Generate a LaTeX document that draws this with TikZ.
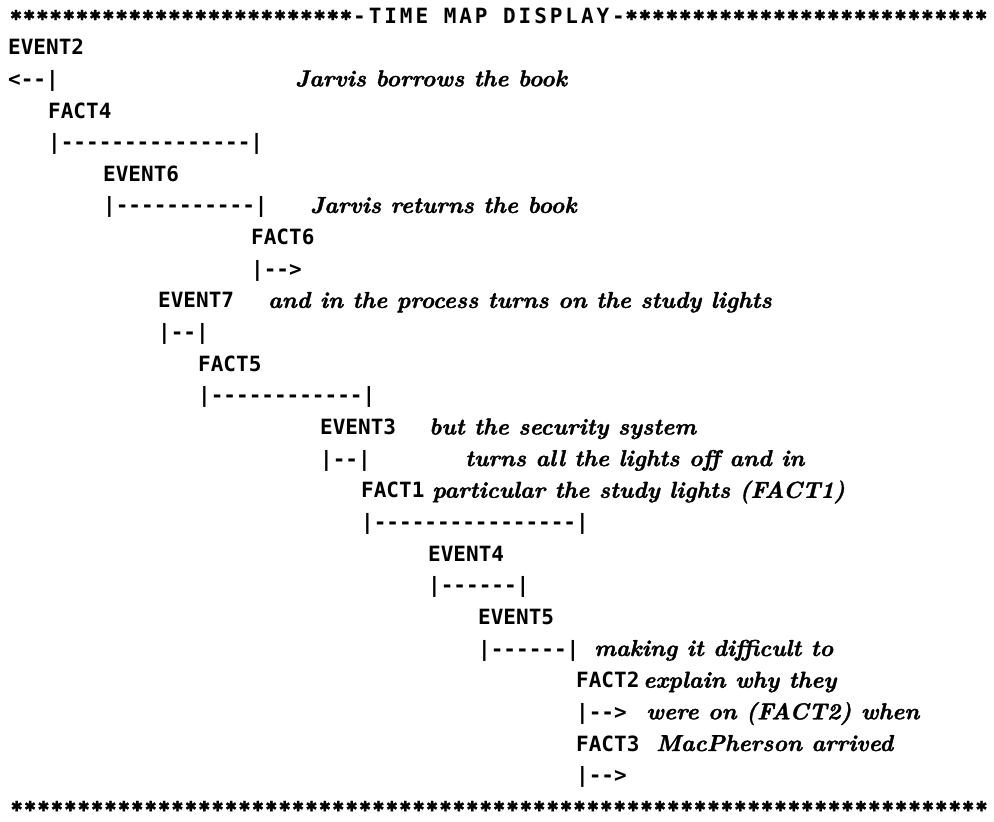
\documentclass[tikz,border=0pt]{standalone}
\usepackage{fontspec}
\setmonofont{DejaVu Sans Mono}
\newfontfamily\notefont{lmroman10-bolditalic}[Extension=.otf,FakeBold=1.6]
\newfontfamily\starfont{DejaVu Sans}[FakeBold=2]
\usepackage{tikz}

\begin{document}
\begin{tikzpicture}[x=1pt,y=-1pt,
  lbl/.style={anchor=base west,inner sep=0pt,font=\ttfamily\bfseries\fontsize{21}{21}\selectfont},
  note/.style={anchor=base west,inner sep=0pt,font=\notefont\fontsize{23}{23}\selectfont},
  ast/.style={anchor=center,inner sep=0pt,font=\starfont\fontsize{14}{14}\selectfont}]
\useasboundingbox[fill=white] (0,0) rectangle (994,822);

% rows of stars
\foreach \i in {0,...,25} {
 \node[ast] (topl\i) at (16+13.2*\i,15) {✱};
}
\node[lbl,font=\ttfamily\bfseries\fontsize{21}{21}\selectfont\addfontfeatures{LetterSpace=14}] (title) at (353,23) {-TIME MAP DISPLAY-};
\foreach \i in {0,...,26} {
 \node[ast] (topr\i) at (631.5+13.45*\i,15) {✱};
}
\foreach \i in {0,...,72} {
 \node[ast] (bot\i) at (16.7+13.4*\i,806) {✱};
}

% intervals, one pair of rows each
\node[lbl] (ev2)    at (8,54.6)    {EVENT2};
\node[lbl] (ev2bar) at (8,86.3)    {<--|};
\node[lbl] (f4)     at (48,118)    {FACT4};
\node[lbl] (f4bar)  at (48,149.6)  {|---------------|};
\node[lbl] (ev6)    at (103,181.3) {EVENT6};
\node[lbl] (ev6bar) at (103,212.9) {|-----------|};
\node[lbl] (f6)     at (251,244.6) {FACT6};
\node[lbl] (f6bar)  at (251,276.2) {|-->};
\node[lbl] (ev7)    at (158,307.9) {EVENT7};
\node[lbl] (ev7bar) at (158,339.5) {|--|};
\node[lbl] (f5)     at (198,371.2) {FACT5};
\node[lbl] (f5bar)  at (198,402.8) {|------------|};
\node[lbl] (ev3)    at (320,434.5) {EVENT3};
\node[lbl] (ev3bar) at (320,466.1) {|--|};
\node[lbl] (f1)     at (361,497.8) {FACT1};
\node[lbl] (f1bar)  at (361,529.4) {|----------------|};
\node[lbl] (ev4)    at (428,561.1) {EVENT4};
\node[lbl] (ev4bar) at (428,592.7) {|------|};
\node[lbl] (ev5)    at (478,624.4) {EVENT5};
\node[lbl] (ev5bar) at (478,656)   {|------|};
\node[lbl] (f2)     at (576,687.7) {FACT2};
\node[lbl] (f2bar)  at (576,719.3) {|-->};
\node[lbl] (f3)     at (576,751)   {FACT3};
\node[lbl] (f3bar)  at (576,782.6) {|-->};

% the story told along the map
\node[note] (borrow)     at (295,86.3)  {Jarvis borrows the book};
\node[note] (return)     at (310,212.9) {Jarvis returns the book};
\node[note] (process)    at (268,307.9) {and in the process turns on the study lights};
\node[note] (security)   at (429,434.5) {but the security system};
\node[note] (turnsoff)   at (465,466.1) {turns all the lights off and in};
\node[note] (particular) at (432,497.8) {particular the study lights (FACT1)};
\node[note] (making)     at (594,656)   {making it difficult to};
\node[note] (explain)    at (643,687.7) {explain why they};
\node[note] (wereon)     at (646,719.3) {were on (FACT2) when};
\node[note] (arrived)    at (656,751)   {MacPherson arrived};
\end{tikzpicture}
\end{document}
